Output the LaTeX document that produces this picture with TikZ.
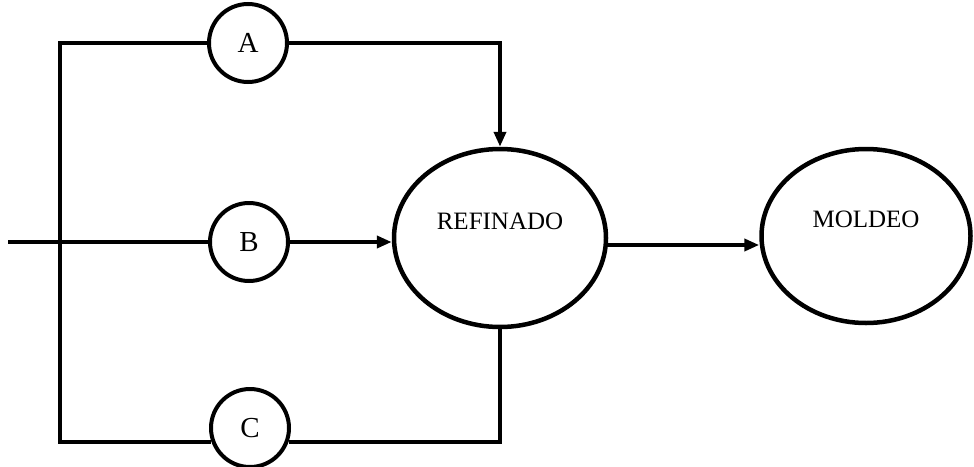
\documentclass[tikz,border=0pt]{standalone}
\usepackage{fontspec}
\setmainfont{Liberation Serif}
\usetikzlibrary{arrows.meta,shapes.geometric}
\tikzset{
  stage/.style ={draw, ellipse, line width=4.5pt, fill=white,
                 inner sep=0pt, text depth=34pt,
                 font=\fontsize{25}{30}\selectfont},
  gate/.style  ={draw, circle, line width=4pt, fill=white,
                 minimum size=78pt, inner sep=0pt,
                 font=\fontsize{29}{32}\selectfont},
  ln/.style    ={line width=4.5pt},
  ar/.style    ={-{Triangle[length=15pt,width=12pt]}, line width=4.5pt}
}

\begin{document}
\begin{tikzpicture}[x=1pt,y=-1pt]
\useasboundingbox (0,0) rectangle (974,466);
\node[stage, minimum width=212pt, minimum height=178pt] (ref) at (500,238)
  {REFINADO};
\node[stage, minimum width=209pt, minimum height=174pt] (mol) at (866,236)
  {MOLDEO};
\node[gate] (A) at (248,43) {A};
\node[gate] (B) at (249,242) {B};
\node[gate] (C) at (250,428) {C};
\coordinate (tl) at (60,43);
\coordinate (in) at (8,242);

\draw[ln] (A) -- (tl) |- (C.200);
\draw[ln] (C.340) -| (ref.south);
\draw[ar] (A) -| (ref.north);
\draw[ln] (in) -- (B);
\draw[ar] (B) -- (B -| ref.west);
\draw[ar] ([yshift=-7pt]ref.east) -- ([yshift=-7pt]ref.east -| mol.west);
\end{tikzpicture}
\end{document}
